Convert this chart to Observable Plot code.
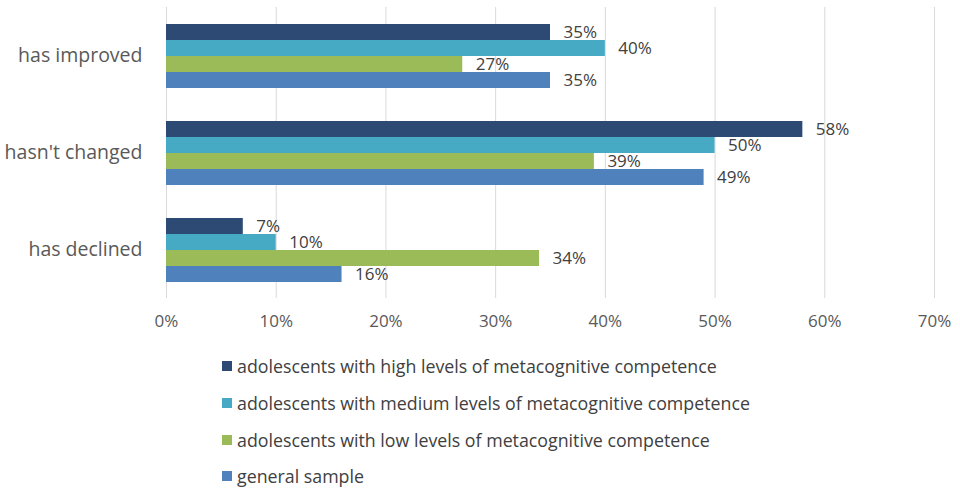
<!DOCTYPE html>
<html><head>
<meta charset="utf-8">
<script src="https://cdn.jsdelivr.net/npm/d3@7"></script>
<script src="https://cdn.jsdelivr.net/npm/@observablehq/plot@0.6"></script>
<style>
body{margin:0;background:#fff;font-family:"Open Sans",sans-serif}
#chart svg{display:block}
#legend{position:relative;margin-left:222px;margin-top:8px}
.item{display:flex;align-items:center;height:36.7px;font-size:17.8px;color:#404040}
.sw{width:10px;height:10px;margin-right:5px;flex:none}
</style>
</head><body>
<div id="chart"></div>
<div id="legend"></div>
<script>
const categories = ["has improved", "hasn't changed", "has declined"];
const series = [
  "adolescents with high levels of metacognitive competence",
  "adolescents with medium levels of metacognitive competence",
  "adolescents with low levels of metacognitive competence",
  "general sample"
];
const high = [35, 58, 7];
const medium = [40, 50, 10];
const low = [27, 39, 34];
const general = [35, 49, 16];
const colors = ["#2c4a74", "#46aac5", "#9bbb59", "#4f81bd"];
const xTicks = [0, 10, 20, 30, 40, 50, 60, 70];

const seriesValues = [high, medium, low, general];
const data = categories.flatMap((c, i) =>
  seriesValues.map((vals, j) => ({category: c, series: series[j], value: vals[i]})));

const chart = Plot.plot({
  width: 960,
  height: 340,
  marginLeft: 166,
  marginRight: 26,
  marginTop: 6,
  marginBottom: 41,
  style: {fontFamily: "'Open Sans', sans-serif", background: "#fff"},
  x: {domain: [0, 70]},
  fy: {domain: categories, padding: 0},
  y: {domain: series, paddingInner: 0, paddingOuter: 0.91},
  color: {domain: series, range: colors},
  marks: [
    Plot.gridX(xTicks, {stroke: "#d9d9d9", strokeOpacity: 1, strokeWidth: 1}),
    Plot.barX(data, {x: "value", y: "series", fy: "category", fill: "series"}),
    Plot.text(data, {x: "value", y: "series", fy: "category", text: d => d.value + "%",
      textAnchor: "start", dx: 13, fontSize: 17, fill: "#404040"}),
    Plot.axisX({ticks: xTicks, tickFormat: d => d + "%", tickSize: 0, tickPadding: 16,
      fontSize: 17, color: "#595959", label: null}),
    Plot.axisY({ticks: [], label: null}),
    Plot.axisFy({anchor: "left", tickSize: 0, tickPadding: 24, fontSize: 19.5, color: "#595959", label: null})
  ]
});
document.getElementById("chart").appendChild(chart);

const legend = document.getElementById("legend");
series.forEach((s, i) => {
  const row = document.createElement("div");
  row.className = "item";
  const sw = document.createElement("span");
  sw.className = "sw";
  sw.style.background = colors[i];
  const t = document.createElement("span");
  t.textContent = s;
  row.appendChild(sw); row.appendChild(t);
  legend.appendChild(row);
});
</script>
</body></html>
